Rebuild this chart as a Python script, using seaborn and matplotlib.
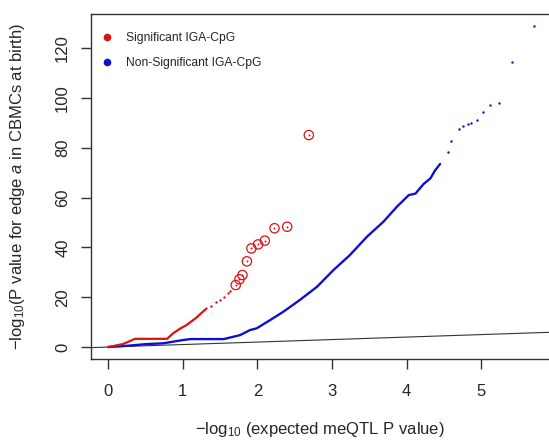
import matplotlib
matplotlib.use("Agg")
import matplotlib.pyplot as plt
from matplotlib.lines import Line2D
import pandas as pd
import seaborn as sns

# values
red_line_x = [0, 0.2, 0.36, 0.79, 0.87, 0.97, 1.05, 1.17, 1.32]
red_line_y = [0, 1.2, 3.3, 3.3, 5.5, 7.5, 8.8, 11.5, 15.5]
red_dot_x = [1.38, 1.45, 1.50, 1.55, 1.60, 1.63]
red_dot_y = [16.5, 18.0, 19.0, 20.0, 21.5, 22.5]
red_sig_x = [1.71, 1.76, 1.80, 1.86, 1.92, 2.01, 2.10, 2.23, 2.40, 2.69]
red_sig_y = [24.9, 27.2, 28.9, 34.4, 39.6, 41.2, 42.7, 47.7, 48.3, 85.1]

blue_line_x = [0, 0.25, 0.52, 0.74, 1.0, 1.1, 1.55, 1.77, 1.90, 1.99, 2.17, 2.35,
               2.57, 2.80, 3.02, 3.24, 3.47, 3.69, 3.87, 4.03, 4.12, 4.23, 4.32,
               4.38, 4.45]
blue_line_y = [0, 0.5, 1.2, 1.5, 2.8, 3.2, 3.2, 4.8, 6.8, 7.5, 10.8, 14.2,
               18.9, 24.2, 30.9, 36.9, 44.3, 50.3, 56.3, 61.0, 61.6, 65.5, 67.7,
               70.8, 73.5]
blue_dot_x = [4.56, 4.60, 4.70, 4.76, 4.82, 4.87, 4.94, 5.02, 5.12, 5.24, 5.42, 5.71]
blue_dot_y = [78.4, 82.7, 87.6, 88.8, 89.6, 90.1, 91.2, 94.5, 97.2, 98.1, 114.6, 128.9]

x_ticks = [0, 1, 2, 3, 4, 5]
y_ticks = [0, 20, 40, 60, 80, 100, 120]

RED = "#dd1111"
BLUE = "#1010cc"

sns.set_style("ticks")
plt.rcParams["font.family"] = ["Liberation Sans", "DejaVu Sans"]
plt.rcParams["mathtext.fontset"] = "custom"
plt.rcParams["mathtext.rm"] = "Liberation Sans"
plt.rcParams["mathtext.it"] = "Liberation Sans:italic"

fig = plt.figure(figsize=(5.49, 4.40), dpi=100)
ax = fig.add_axes([91 / 549, 81 / 440, 458 / 549, 345 / 440])

# identity line
ax.axline((0, 0), slope=1, color="#333333", lw=0.8, zorder=1)

blue_line = pd.DataFrame({"x": blue_line_x, "y": blue_line_y})
sns.lineplot(data=blue_line, x="x", y="y", sort=False, color=BLUE, lw=1.7, ax=ax, zorder=3)
blue_dots = pd.DataFrame({"x": blue_dot_x, "y": blue_dot_y})
sns.scatterplot(data=blue_dots, x="x", y="y", color=BLUE, s=3, linewidth=0, ax=ax, zorder=3)

red_line = pd.DataFrame({"x": red_line_x, "y": red_line_y})
sns.lineplot(data=red_line, x="x", y="y", sort=False, color=RED, lw=1.6, ax=ax, zorder=4)
red_dots = pd.DataFrame({"x": red_dot_x, "y": red_dot_y})
sns.scatterplot(data=red_dots, x="x", y="y", color=RED, s=3, linewidth=0, ax=ax, zorder=4)
red_sig = pd.DataFrame({"x": red_sig_x, "y": red_sig_y})
sns.scatterplot(data=red_sig, x="x", y="y", color=RED, s=2, linewidth=0, ax=ax, zorder=5)
ax.scatter(red_sig["x"], red_sig["y"], s=45, facecolors="none", edgecolors=RED,
           linewidths=0.9, zorder=5)

ax.set_xlim(-0.23, 5.91)
ax.set_ylim(-4.8, 133.7)
ax.set_xticks(x_ticks)
ax.set_yticks(y_ticks)
ax.tick_params(axis="both", direction="out", length=7, width=1, color="#333333",
               labelsize=12)
ax.tick_params(axis="x", pad=11)
ax.tick_params(axis="y", pad=8)
plt.setp(ax.get_yticklabels(), rotation=90, va="center")
for side in ("left", "bottom", "top"):
    ax.spines[side].set_color("#333333")
    ax.spines[side].set_linewidth(1.0)
    ax.spines[side].set_visible(True)
ax.spines["right"].set_visible(False)

ax.set_xlabel(r"$-\mathrm{log}_{10}$ (expected meQTL P value)", fontsize=12, labelpad=15)
ax.set_ylabel(r"$-\mathrm{log}_{10}$(P value for edge $a$ in CBMCs at birth)",
              fontsize=12, labelpad=20)

handles = [
    Line2D([], [], marker="o", ls="", color=RED, markersize=4.5),
    Line2D([], [], marker="o", ls="", color=BLUE, markersize=4.5),
]
ax.legend(handles, ["Significant IGA-CpG", "Non-Significant IGA-CpG"], loc="upper left",
          bbox_to_anchor=(-0.018, 0.997), frameon=False, fontsize=8.7,
          handletextpad=1.0, borderpad=1.1, labelspacing=1.1, handlelength=1.2,
          borderaxespad=0.3)

fig.savefig("out.png", dpi=100)
